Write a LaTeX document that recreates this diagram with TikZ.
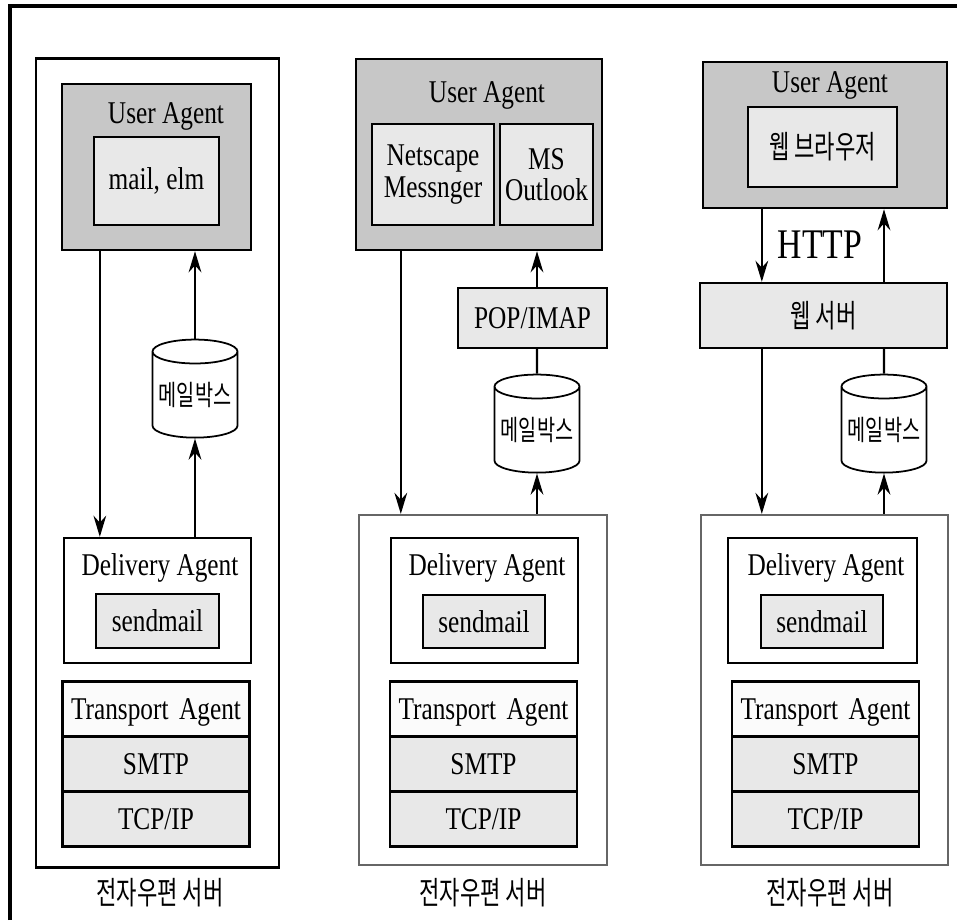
\documentclass[tikz,border=0pt]{standalone}
\usepackage{fontspec}
\setmainfont{Liberation Serif}[FakeStretch=0.8]
\newfontfamily\kr{Noto Sans CJK KR}[FakeStretch=0.7]
\usetikzlibrary{shapes,arrows.meta,positioning,calc}

\definecolor{uagray}{gray}{0.78}
\definecolor{boxgray}{gray}{0.91}
\definecolor{rowwhite}{gray}{0.985}
\definecolor{srvline}{gray}{0.4}
\newcommand{\rowstrut}{\rule[-4.5pt]{0pt}{15pt}}

\begin{document}
\begin{tikzpicture}[x=0.01cm, y=-0.01cm, font=\fontsize{9}{9}\selectfont,
    box/.style={draw, line width=0.65pt, inner sep=0pt},
    uabox/.style={box, fill=uagray},
    appbox/.style={box, fill=boxgray, align=center},
    srvbox/.style={draw=black, line width=0.75pt, inner sep=0pt},
    srvthin/.style={draw=srvline, line width=0.55pt, inner sep=0pt},
    stack/.style={rectangle split, rectangle split parts=3,
      rectangle split part fill={rowwhite, boxgray, boxgray},
      draw, line width=0.65pt, inner xsep=0pt, inner ysep=0pt,
      text width=1.87cm, align=center},
    mboxcyl/.style={cylinder, shape border rotate=90, draw, aspect=0.33,
      inner sep=0pt, fill=white, minimum width=0.85cm, minimum height=0.98cm,
      line width=0.5pt, font=\kr\fontsize{8}{8}\selectfont},
    krtext/.style={font=\kr\fontsize{9}{9}\selectfont},
    arr/.style={-{Stealth[length=6pt,width=3.6pt]}, line width=0.7pt},
    conn/.style={line width=0.7pt}
  ]
    \useasboundingbox (0,0) rectangle (957,920);
    % frame
    \draw[line width=1pt] (10,920) -- (10,6) -- (957,6);

    % ---- left server
    \node[srvbox, minimum width=2.43cm, minimum height=8.08cm] (srv1) at (157.5,463) {};
    \node[uabox, minimum width=1.89cm, minimum height=1.66cm] (ua1) at (156.5,167) {};
    \node (ua1t) at (166,116) {User Agent};
    \node[appbox, minimum width=1.25cm, minimum height=0.88cm] (app1) at (156.5,181) {mail, elm};
    \node[mboxcyl] (mb1) at (195,395) {메일박스};
    \node[box, fill=white, minimum width=1.87cm, minimum height=1.25cm] (del1) at (157.5,600.5) {};
    \node (del1t) at (160,568) {Delivery Agent};
    \node[appbox, minimum width=1.23cm, minimum height=0.54cm] (sm1) at (157.5,621) {sendmail};
    \node[stack] (tr1) at (156,764) {
      \nodepart{one}\rowstrut Transport Agent
      \nodepart{two}\rowstrut SMTP
      \nodepart{three}\rowstrut TCP/IP
    };
    \node[krtext] (cap1) at (160,893) {전자우편 서버};

    \coordinate (d1) at ([xshift=0.39cm]ua1.south west);
    \draw[arr] (d1) -- (d1 |- del1.north);
    \draw[arr] (mb1.north) -- (mb1.north |- ua1.south);
    \draw[arr] (mb1.south |- del1.north) -- (mb1.south);

    % ---- middle server
    \node[srvthin, minimum width=2.48cm, minimum height=3.50cm] (srv2) at (483,690) {};
    \node[uabox, minimum width=2.46cm, minimum height=1.91cm] (ua2) at (479,154.5) {};
    \node (ua2t) at (487,95) {User Agent};
    \node[appbox, minimum width=1.22cm, minimum height=1.01cm] (ns) at (433,174.5) {Netscape\\Messnger};
    \node[appbox, minimum width=0.93cm, minimum height=1.01cm] (ol) at (546.5,174.5) {MS\\Outlook};
    \node[appbox, minimum width=1.49cm, minimum height=0.60cm] (pop) at (532.5,318) {POP/IMAP};
    \node[mboxcyl] (mb2) at (537,430) {메일박스};
    \node[box, fill=white, minimum width=1.87cm, minimum height=1.25cm] (del2) at (484.5,600.5) {};
    \node (del2t) at (487,568) {Delivery Agent};
    \node[appbox, minimum width=1.22cm, minimum height=0.53cm] (sm2) at (484,621.5) {sendmail};
    \node[stack] (tr2) at (483.5,764) {
      \nodepart{one}\rowstrut Transport Agent
      \nodepart{two}\rowstrut SMTP
      \nodepart{three}\rowstrut TCP/IP
    };
    \node[krtext] (cap2) at (483,893) {전자우편 서버};

    \coordinate (d2) at ([xshift=0.46cm]ua2.south west);
    \draw[arr] (d2) -- (d2 |- srv2.north);
    \draw[arr] (mb2 |- pop.north) -- (mb2 |- ua2.south);
    \draw[conn] (mb2.north) -- (mb2 |- pop.south);
    \draw[arr] (mb2 |- srv2.north) -- (mb2.south);

    % ---- right server
    \node[srvthin, minimum width=2.47cm, minimum height=3.50cm] (srv3) at (824.5,690) {};
    \node[uabox, minimum width=2.44cm, minimum height=1.46cm] (ua3) at (825,135) {};
    \node (ua3t) at (830,85) {User Agent};
    \node[appbox, minimum width=1.49cm, minimum height=0.80cm, krtext] (br) at (822.5,147) {웹 브라우저};
    \node[font=\fontsize{12}{12}\selectfont] (http) at (820,245) {HTTP};
    \node[appbox, minimum width=2.47cm, minimum height=0.65cm, krtext] (web) at (823.5,315.5) {웹 서버};
    \node[mboxcyl] (mb3) at (884,430) {메일박스};
    \node[box, fill=white, minimum width=1.89cm, minimum height=1.25cm] (del3) at (822.5,600.5) {};
    \node (del3t) at (826,568) {Delivery Agent};
    \node[appbox, minimum width=1.22cm, minimum height=0.53cm] (sm3) at (822,621.5) {sendmail};
    \node[stack] (tr3) at (825.5,764) {
      \nodepart{one}\rowstrut Transport Agent
      \nodepart{two}\rowstrut SMTP
      \nodepart{three}\rowstrut TCP/IP
    };
    \node[krtext] (cap3) at (830,893) {전자우편 서버};

    \coordinate (d3) at ([xshift=0.60cm]ua3.south west);
    \draw[arr] (d3) -- (d3 |- web.north);
    \draw[arr] (d3 |- web.south) -- (d3 |- srv3.north);
    \draw[arr] (mb3 |- web.north) -- (mb3 |- ua3.south);
    \draw[conn] (mb3.north) -- (mb3 |- web.south);
    \draw[arr] (mb3 |- srv3.north) -- (mb3.south);
\end{tikzpicture}
\end{document}
